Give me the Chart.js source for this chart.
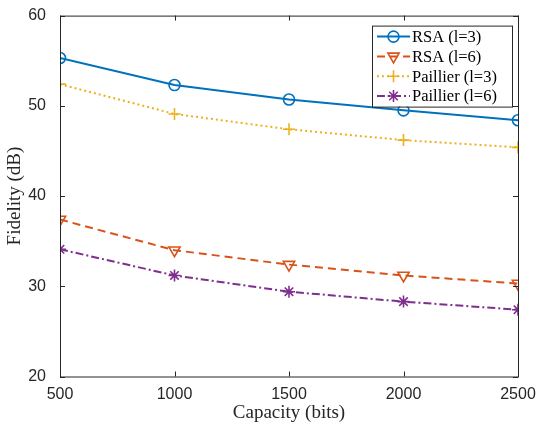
<!DOCTYPE html>
<html>
<head>
<meta charset="utf-8">
<script src="https://cdn.jsdelivr.net/npm/chart.js@4.4.1/dist/chart.umd.min.js"></script>
<style>
  html, body { margin: 0; padding: 0; background: #fff; }
  #wrap { width: 537px; height: 428px; }
</style>
</head>
<body>
<div id="wrap"><canvas id="c"></canvas></div>
<script>
// Fidelity vs capacity
const capacity = [500, 1000, 1500, 2000, 2500];
const xTicks = [500, 1000, 1500, 2000, 2500];
const yTicks = [20, 30, 40, 50, 60];

const rsa3 = [55.3, 52.3, 50.7, 49.5, 48.4];
const rsa6 = [37.4, 34.0, 32.4, 31.2, 30.3];
const paillier3 = [52.4, 49.1, 47.4, 46.2, 45.4];
const paillier6 = [34.1, 31.2, 29.4, 28.3, 27.4];

const seriesNames = ['RSA (l=3)', 'RSA (l=6)', 'Paillier (l=3)', 'Paillier (l=6)'];

const AXIS = '#262626';
const SERIF = '"Liberation Serif", "DejaVu Serif", serif';
const SANS = '"Liberation Sans", Arial, sans-serif';

const styles = [
  { color: '#0072BD', dash: [], point: 'circle', radius: 5.5, rot: 0 },
  { color: '#D95319', dash: [8, 5], point: 'triangle', radius: 6.5, rot: 180 },
  { color: '#EDB120', dash: [2, 3], point: 'cross', radius: 6, rot: 0 },
  { color: '#7E2F8E', dash: [8, 3, 2, 3], point: 'star', radius: 6, rot: 0 }
];

function toPoints(vals) {
  return vals.map((v, i) => ({ x: capacity[i], y: v }));
}

const allSeries = [rsa3, rsa6, paillier3, paillier6];

const datasets = allSeries.map((vals, i) => ({
  label: seriesNames[i],
  data: toPoints(vals),
  borderColor: styles[i].color,
  backgroundColor: 'transparent',
  borderWidth: 2,
  borderDash: styles[i].dash,
  pointStyle: styles[i].point,
  pointRadius: styles[i].radius,
  pointRotation: styles[i].rot,
  pointBorderWidth: 1.6,
  pointBorderColor: styles[i].color,
  pointBackgroundColor: 'transparent',
  tension: 0
}));

// box + inward ticks on all four sides, MATLAB style
const boxPlugin = {
  id: 'box',
  afterDraw(chart) {
    const { ctx, chartArea: a, scales } = chart;
    ctx.save();
    ctx.strokeStyle = AXIS;
    ctx.lineWidth = 1;
    ctx.setLineDash([]);
    ctx.strokeRect(a.left + 0.5, a.top + 0.5, a.right - a.left, a.bottom - a.top);
    const len = 5;
    ctx.beginPath();
    xTicks.forEach(t => {
      const x = Math.round(scales.x.getPixelForValue(t)) + 0.5;
      ctx.moveTo(x, a.bottom); ctx.lineTo(x, a.bottom - len);
      ctx.moveTo(x, a.top); ctx.lineTo(x, a.top + len);
    });
    yTicks.forEach(t => {
      const y = Math.round(scales.y.getPixelForValue(t)) + 0.5;
      ctx.moveTo(a.left, y); ctx.lineTo(a.left + len, y);
      ctx.moveTo(a.right, y); ctx.lineTo(a.right - len, y);
    });
    ctx.stroke();
    ctx.restore();
  }
};

// legend box in the top right corner
const legendPlugin = {
  id: 'matlabLegend',
  afterDraw(chart) {
    const { ctx, chartArea: a } = chart;
    const bx = a.right - 146, by = a.top + 10, bw = 140, bh = 81;
    ctx.save();
    ctx.fillStyle = '#fff';
    ctx.fillRect(bx, by, bw, bh);
    ctx.strokeStyle = AXIS;
    ctx.lineWidth = 1;
    ctx.strokeRect(bx + 0.5, by + 0.5, bw, bh);
    ctx.font = '16.5px ' + SERIF;
    ctx.textBaseline = 'middle';
    seriesNames.forEach((name, i) => {
      const s = styles[i];
      const y = by + 11 + i * 19.8;
      ctx.strokeStyle = s.color;
      ctx.lineWidth = 2;
      ctx.setLineDash(s.dash);
      ctx.beginPath();
      ctx.moveTo(bx + 5, y); ctx.lineTo(bx + 38, y);
      ctx.stroke();
      ctx.setLineDash([]);
      ctx.lineWidth = 1.6;
      ctx.fillStyle = 'rgba(0,0,0,0)';
      Chart.helpers.drawPoint(ctx, { pointStyle: s.point, radius: s.radius, rotation: s.rot, borderWidth: 1.6 }, bx + 21.5, y);
      ctx.fillStyle = '#000';
      ctx.fillText(name, bx + 40, y + 1);
    });
    ctx.restore();
  }
};

new Chart(document.getElementById('c'), {
  type: 'line',
  data: { datasets },
  plugins: [boxPlugin, legendPlugin],
  options: {
    responsive: true,
    maintainAspectRatio: false,
    animation: false,
    layout: { padding: { left: 0, right: 19, top: 14, bottom: 0 } },
    plugins: { legend: { display: false }, tooltip: { enabled: false } },
    scales: {
      x: {
        type: 'linear',
        min: 500, max: 2500,
        afterBuildTicks: s => { s.ticks = xTicks.map(v => ({ value: v })); },
        afterFit: s => { s.height = 51.5; },
        grid: { display: false },
        border: { display: false },
        ticks: { color: AXIS, font: { family: SANS, size: 16 }, padding: 0, maxRotation: 0, callback: v => String(v) },
        title: { display: true, text: 'Capacity (bits)', color: AXIS, font: { family: SERIF, size: 19 }, padding: { top: 0 } }
      },
      y: {
        min: 20, max: 60,
        afterBuildTicks: s => { s.ticks = yTicks.map(v => ({ value: v })); },
        afterFit: s => { s.width = 60; },
        grid: { display: false },
        border: { display: false },
        ticks: { color: AXIS, font: { family: SANS, size: 16 }, padding: 6, callback: v => String(v) },
        title: { display: true, text: 'Fidelity (dB)', color: AXIS, font: { family: SERIF, size: 19 }, padding: { top: 4, bottom: 2 } }
      }
    }
  }
});
</script>
</body>
</html>
